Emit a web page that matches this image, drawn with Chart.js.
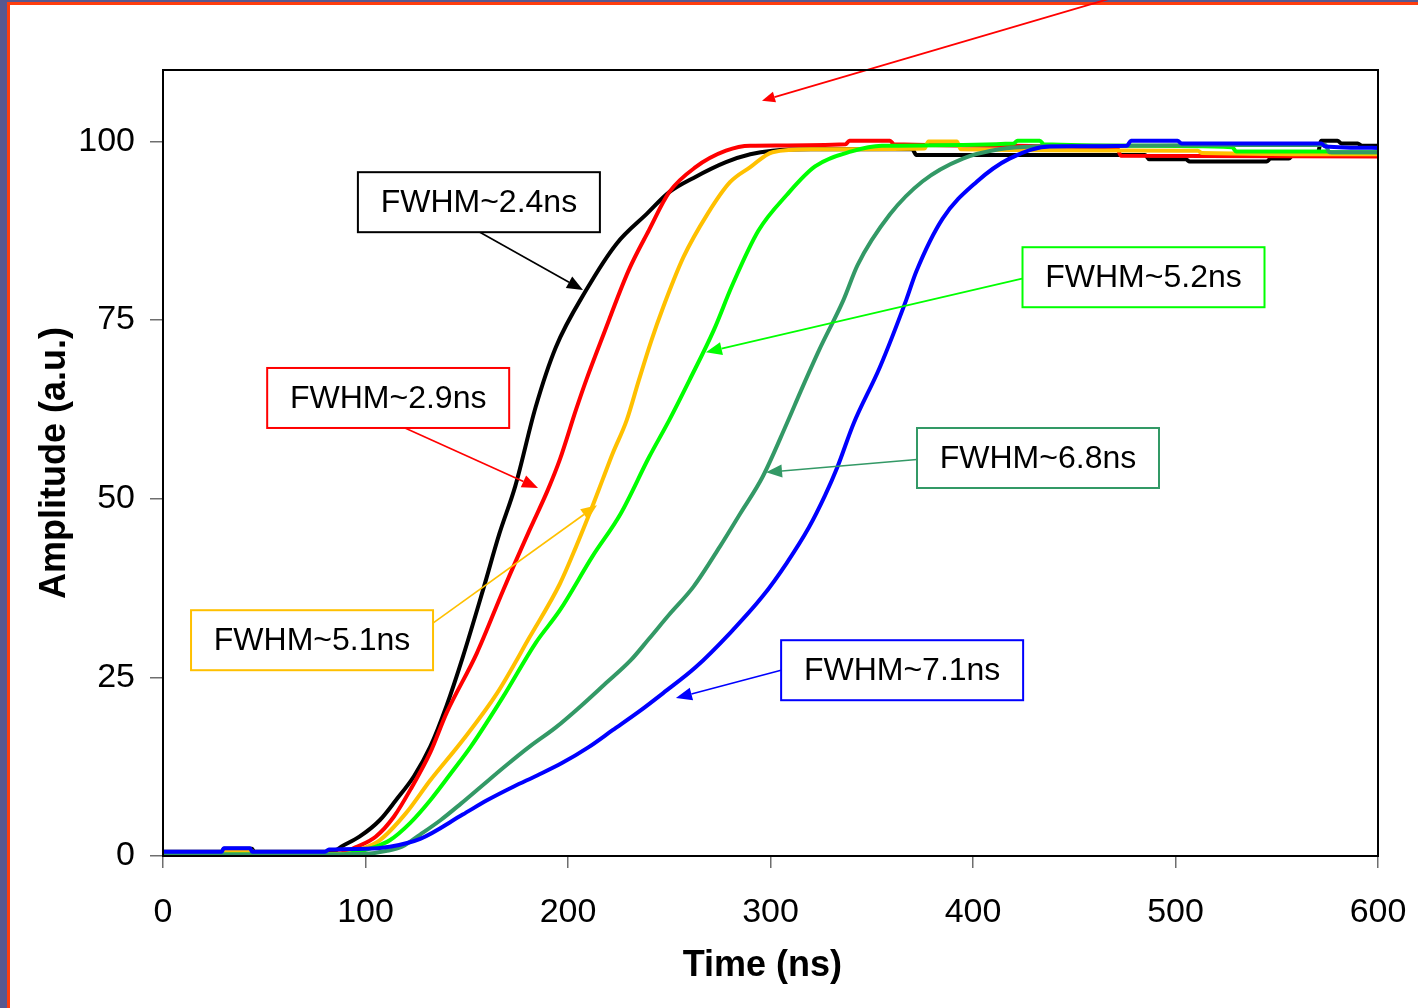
<!DOCTYPE html>
<html>
<head>
<meta charset="utf-8">
<script src="https://cdn.jsdelivr.net/npm/chart.js@4.4.1/dist/chart.umd.min.js"></script>
<style>
  html, body { margin: 0; padding: 0; background: #585890; }
  canvas { display: block; }
</style>
</head>
<body>
<canvas id="pulse-chart" width="1418" height="1008"></canvas>
<script>
// ─── Data (time in ns, amplitude in a.u.) ─────────────────────────────────────
const blackT = [0, 29, 30, 44, 45, 84, 88, 97, 107, 115, 124, 132, 140, 148, 158, 166, 174, 184, 194, 209, 224, 239, 250, 262, 278, 290, 301, 320, 370, 372, 485, 487, 505, 507, 545, 547, 556, 558, 570, 572, 580, 582, 590, 592, 600];
const blackA = [0.6, 0.6, 1.0, 1.0, 0.6, 0.6, 1.3, 2.7, 5.0, 7.8, 11.2, 15.3, 21.0, 27.8, 37.2, 45.0, 51.8, 62.8, 71.2, 79.2, 85.7, 89.9, 92.9, 94.9, 97.1, 98.2, 98.7, 98.9, 98.9, 98.1, 98.1, 97.5, 97.5, 97.2, 97.2, 97.6, 97.6, 98.1, 98.1, 100.1, 100.1, 99.7, 99.7, 99.4, 99.4];

const redT = [0, 29, 30, 44, 45, 88, 95, 105, 114, 123, 132, 140, 155, 168, 181, 190, 196, 204, 209, 217, 230, 240, 250, 263, 278, 290, 337, 339, 359, 361, 420, 460, 471, 473, 600];
const redA = [0.3, 0.3, 0.7, 0.7, 0.3, 0.4, 1.2, 2.7, 5.5, 9.7, 14.5, 20.0, 28.4, 37.2, 45.6, 51.2, 55.5, 62.5, 66.6, 72.6, 82.0, 87.6, 92.9, 96.4, 98.7, 99.4, 99.6, 100.1, 100.1, 99.6, 99.4, 99.2, 99.2, 98.0, 97.9];

const yellowT = [0, 29, 30, 44, 45, 90, 98, 107, 120, 132, 148, 165, 181, 196, 204, 212, 217, 222, 229, 235, 241, 247, 257, 269, 280, 290, 301, 320, 376, 378, 392, 394, 511, 513, 600];
const yellowA = [0.2, 0.2, 0.7, 0.7, 0.2, 0.3, 1.0, 2.2, 6.0, 10.6, 16.2, 22.8, 30.6, 38.1, 43.3, 48.9, 52.6, 56.3, 61.0, 66.6, 72.0, 76.8, 83.8, 89.9, 94.3, 96.4, 98.5, 98.9, 99.0, 100.0, 100.0, 98.9, 98.7, 98.4, 98.2];

const greenT = [0, 88, 95, 104, 112, 122, 132, 142, 152, 168, 184, 196, 212, 226, 240, 250, 260, 272, 281, 294, 308, 322, 340, 355, 420, 422, 433, 435, 480, 528, 530, 575, 577, 600];
const greenA = [0.2, 0.2, 0.5, 1.2, 2.2, 4.6, 7.8, 11.5, 15.3, 22.3, 29.8, 34.4, 41.9, 47.9, 55.8, 61.0, 66.6, 73.6, 79.8, 87.5, 92.5, 96.5, 98.6, 99.4, 99.7, 100.1, 100.1, 99.6, 99.4, 99.2, 98.6, 98.6, 98.5, 98.5];

const seaT = [0, 80, 100, 110, 118, 127, 137, 147, 157, 170, 181, 194, 206, 218, 231, 240, 250, 262, 275, 285, 296, 308, 315, 324, 336, 343, 359, 375, 395, 413, 430, 470, 520, 574, 576, 600];
const seaA = [0.2, 0.2, 0.3, 0.7, 1.3, 3.0, 5.0, 7.3, 9.7, 12.8, 15.3, 18.0, 20.9, 24.0, 27.4, 30.4, 33.8, 37.7, 43.3, 47.9, 53.0, 60.5, 65.1, 70.8, 77.8, 82.7, 89.8, 94.4, 97.6, 98.9, 99.3, 99.4, 99.5, 99.5, 98.5, 98.5];

const blueT = [0, 29, 30, 43, 44, 80, 82, 100, 112, 127, 148, 160, 173, 185, 197, 210, 222, 235, 247, 263, 280, 296, 308, 319, 327, 333, 341, 354, 367, 372, 385, 402, 418, 438, 476, 478, 501, 503, 572, 574, 600];
const blueA = [0.6, 0.6, 1.1, 1.1, 0.6, 0.6, 0.9, 1.0, 1.3, 2.4, 5.8, 7.8, 9.7, 11.3, 13.0, 15.2, 17.6, 20.2, 22.8, 26.4, 31.2, 36.3, 41.0, 46.0, 50.5, 54.4, 60.5, 68.4, 77.8, 81.8, 89.2, 94.4, 97.6, 99.3, 99.4, 100.1, 100.1, 99.7, 99.7, 99.3, 99.1];

const xTicks = [0, 100, 200, 300, 400, 500, 600];
const yTicks = [0, 25, 50, 75, 100];

// ─── Callout boxes + arrows (data coordinates) ───────────────────────────────
const calloutText  = ['FWHM~2.4ns', 'FWHM~2.9ns', 'FWHM~5.1ns', 'FWHM~5.2ns', 'FWHM~6.8ns', 'FWHM~7.1ns'];
const calloutColor = ['#000000', '#ff0000', '#ffc000', '#00ff00', '#339966', '#0000ff'];
const calloutX     = [156.0, 111.2, 73.6, 484.2, 432.1, 365.0];
const calloutY     = [91.5, 64.1, 30.2, 81.0, 55.7, 26.0];
const arrowFrom    = [[156.5, 87.3], [119.5, 59.9], [133.3, 32.6], [424.2, 80.8], [372.3, 55.5], [305.2, 26.0]];
const arrowTo      = [[207.4, 79.2], [185.2, 51.5], [214.3, 49.1], [268.1, 70.5], [297.8, 53.7], [253.3, 22.1]];
// red slide pointer coming from above the plot
const pointerFrom  = [472.6, 120.4];
const pointerTo    = [295.8, 105.7];

const xTitle = 'Time (ns)';
const FONT = '"Liberation Sans", Arial, sans-serif';

const toPoints = (t, a) => t.map((v, i) => ({ x: v, y: a[i] }));

const series = [
    { label: 'FWHM~2.4ns', t: blackT,  a: blackA,  color: '#000000', order: 6 },
    { label: 'FWHM~2.9ns', t: redT,    a: redA,    color: '#ff0000', order: 5 },
    { label: 'FWHM~5.1ns', t: yellowT, a: yellowA, color: '#ffc000', order: 4 },
    { label: 'FWHM~5.2ns', t: greenT,  a: greenA,  color: '#00ff00', order: 3 },
    { label: 'FWHM~6.8ns', t: seaT,    a: seaA,    color: '#339966', order: 2 },
    { label: 'FWHM~7.1ns', t: blueT,   a: blueA,   color: '#0000ff', order: 1 }
];

// ─── Helpers ─────────────────────────────────────────────────────────────────
const drawArrow = (ctx, x0, y0, x1, y1, color, width, head, half) => {
    const ang = Math.atan2(y1 - y0, x1 - x0);
    const bx = x1 - Math.cos(ang) * head;
    const by = y1 - Math.sin(ang) * head;
    ctx.strokeStyle = color;
    ctx.fillStyle = color;
    ctx.lineWidth = width;
    ctx.beginPath();
    ctx.moveTo(x0, y0);
    ctx.lineTo(bx, by);
    ctx.stroke();
    ctx.beginPath();
    ctx.moveTo(x1, y1);
    ctx.lineTo(bx + Math.sin(ang) * half, by - Math.cos(ang) * half);
    ctx.lineTo(bx - Math.sin(ang) * half, by + Math.cos(ang) * half);
    ctx.closePath();
    ctx.fill();
};

// ─── Plugins ─────────────────────────────────────────────────────────────────
const slideBackground = {
    id: 'slideBackground',
    beforeDraw(chart) {
        const { ctx, width, height } = chart;
        ctx.save();
        ctx.fillStyle = '#585890';
        ctx.fillRect(0, 0, width, height);
        ctx.fillStyle = '#ff3d0d';
        ctx.fillRect(7, 2, width - 7, height - 2);
        ctx.fillStyle = '#ffffff';
        ctx.fillRect(10, 5, width - 10, height - 5);
        ctx.restore();
    }
};

// plot frame + x-axis title (title sits slightly left of the plot centre)
const plotFrame = {
    id: 'plotFrame',
    afterDraw(chart) {
        const { ctx, chartArea: a, scales: { x } } = chart;
        ctx.save();
        ctx.strokeStyle = '#000000';
        ctx.lineWidth = 2;
        ctx.strokeRect(a.left, a.top, a.right - a.left, a.bottom - a.top);
        ctx.font = `bold 36px ${FONT}`;
        ctx.fillStyle = '#000000';
        ctx.textAlign = 'center';
        ctx.textBaseline = 'middle';
        ctx.fillText(xTitle, x.getPixelForValue(296), a.bottom + 110);
        ctx.restore();
    }
};

const callouts = {
    id: 'callouts',
    afterDatasetsDraw(chart) {
        const { ctx, scales: { x, y } } = chart;
        ctx.save();
        calloutText.forEach((txt, i) => {
            drawArrow(ctx,
                x.getPixelForValue(arrowFrom[i][0]), y.getPixelForValue(arrowFrom[i][1]),
                x.getPixelForValue(arrowTo[i][0]),   y.getPixelForValue(arrowTo[i][1]),
                calloutColor[i], 1.6, 16, 6.5);
        });
        drawArrow(ctx,
            x.getPixelForValue(pointerFrom[0]), y.getPixelForValue(pointerFrom[1]),
            x.getPixelForValue(pointerTo[0]),   y.getPixelForValue(pointerTo[1]),
            '#ff0000', 1.8, 13, 5.5);

        ctx.font = `32px ${FONT}`;
        ctx.textAlign = 'center';
        ctx.textBaseline = 'middle';
        calloutText.forEach((txt, i) => {
            const cx = x.getPixelForValue(calloutX[i]);
            const cy = y.getPixelForValue(calloutY[i]);
            const w = 242, h = 60;
            ctx.fillStyle = '#ffffff';
            ctx.fillRect(cx - w / 2, cy - h / 2, w, h);
            ctx.strokeStyle = calloutColor[i];
            ctx.lineWidth = 2;
            ctx.strokeRect(cx - w / 2, cy - h / 2, w, h);
            ctx.fillStyle = '#000000';
            ctx.fillText(txt, cx, cy + 1);
        });
        ctx.restore();
    }
};

// ─── Chart ───────────────────────────────────────────────────────────────────
const ctx = document.getElementById('pulse-chart').getContext('2d');
new Chart(ctx, {
    type: 'line',
    data: {
        datasets: series.map(s => ({
            label: s.label,
            data: toPoints(s.t, s.a),
            borderColor: s.color,
            backgroundColor: s.color,
            borderWidth: 4,
            pointRadius: 0,
            cubicInterpolationMode: 'monotone',
            fill: false,
            order: s.order
        }))
    },
    options: {
        responsive: false,
        devicePixelRatio: 1,
        animation: false,
        layout: { padding: { left: 0, top: 70, right: 40, bottom: 0 } },
        plugins: {
            legend: { display: false },
            tooltip: { enabled: false }
        },
        scales: {
            x: {
                type: 'linear',
                min: 0,
                max: 600,
                afterFit: (scale) => {
                    scale.height = 152;
                    scale.paddingLeft = 0;
                    scale.paddingRight = 0;
                },
                afterBuildTicks: (scale) => { scale.ticks = xTicks.map(v => ({ value: v })); },
                grid: { drawOnChartArea: false, tickLength: 12, color: '#6e6e6e', lineWidth: 1.5 },
                border: { color: '#000000', width: 2 },
                ticks: { color: '#000000', padding: 24, maxRotation: 0, font: { family: FONT, size: 34 } },
                title: { display: false }
            },
            y: {
                type: 'linear',
                min: 0,
                max: 110,
                afterFit: (scale) => {
                    scale.width = 163;
                    scale.paddingTop = 0;
                    scale.paddingBottom = 0;
                },
                afterBuildTicks: (scale) => { scale.ticks = yTicks.map(v => ({ value: v })); },
                grid: { drawOnChartArea: false, tickLength: 13, color: '#6e6e6e', lineWidth: 1.5 },
                border: { color: '#000000', width: 2 },
                ticks: { color: '#000000', padding: 15, font: { family: FONT, size: 34 } },
                title: {
                    display: true,
                    text: 'Amplitude (a.u.)',
                    color: '#000000',
                    padding: { top: 33, bottom: 0 },
                    font: { family: FONT, size: 36, weight: 'bold' }
                }
            }
        }
    },
    plugins: [slideBackground, plotFrame, callouts]
});
</script>
</body>
</html>
